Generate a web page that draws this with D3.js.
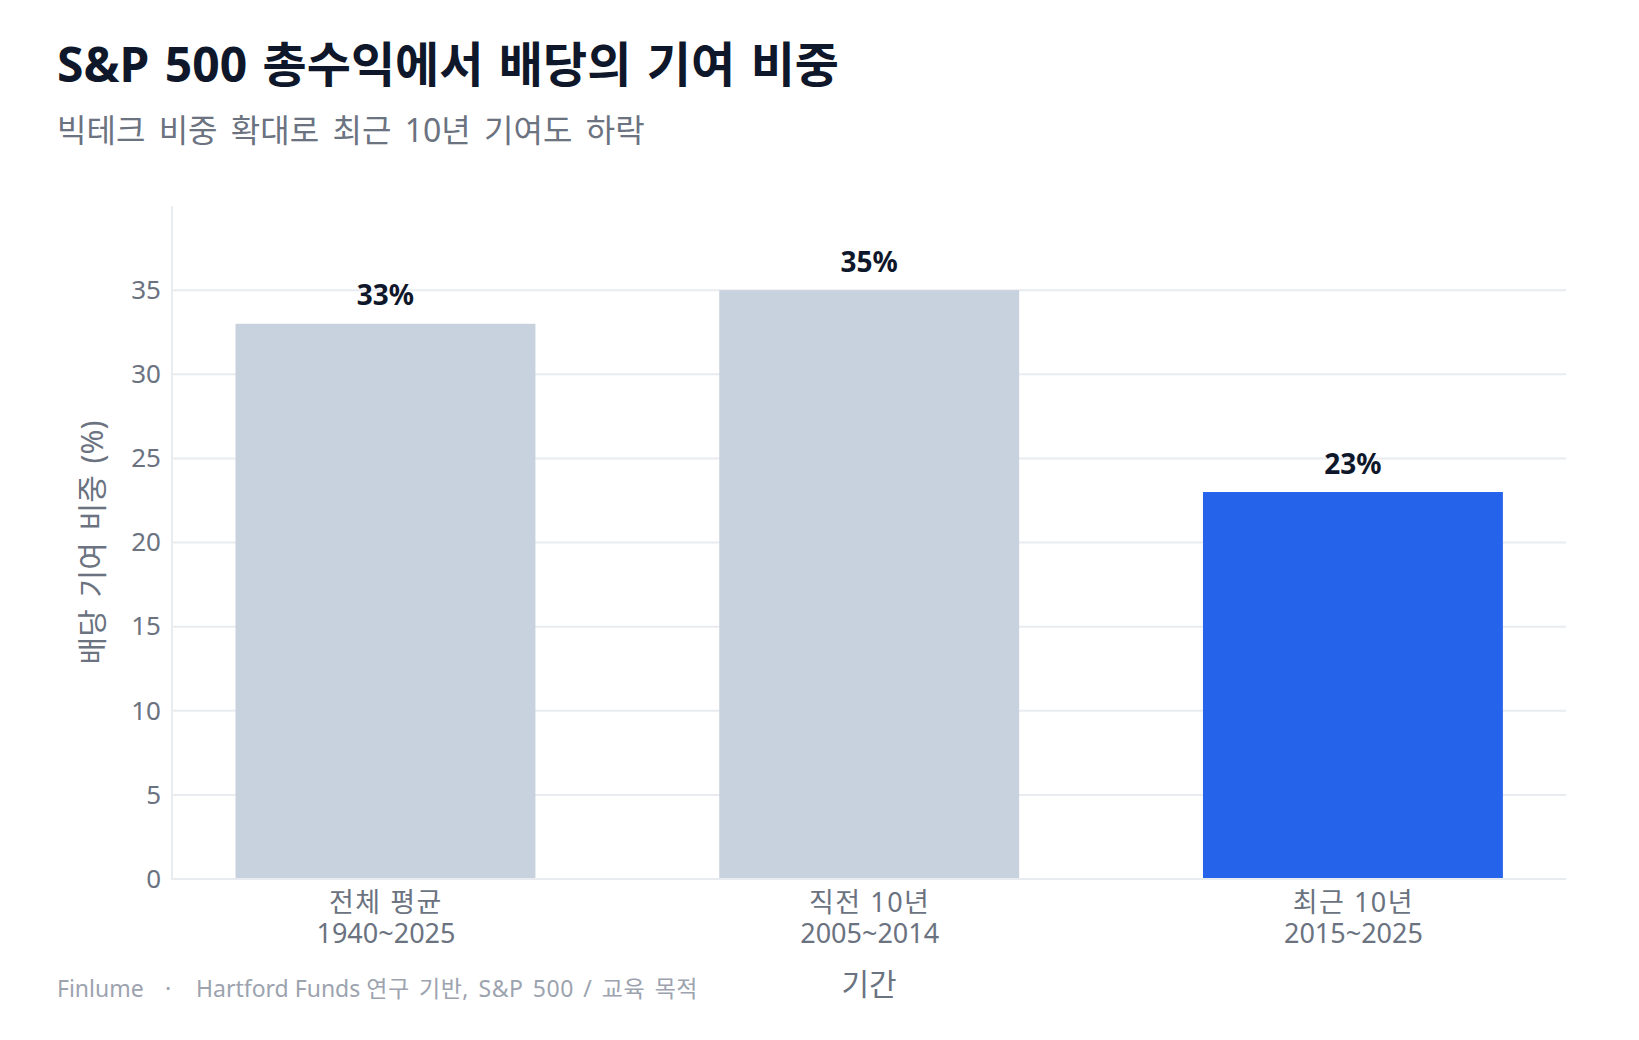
<!DOCTYPE html>
<html>
<head>
<meta charset="utf-8">
<script src="https://cdn.jsdelivr.net/npm/d3@7"></script>
<style>
  body { margin: 0; background: #ffffff; }
  svg { display: block; font-family: "Noto Sans", "Noto Sans CJK KR", sans-serif; }
</style>
</head>
<body>
<div id="chart"></div>
<script>
// 데이터
const categories = ['전체 평균', '직전 10년', '최근 10년'];
const periods = ['1940~2025', '2005~2014', '2015~2025'];
const values = [33, 35, 23];
const highlight = '최근 10년';
const yTicks = [0, 5, 10, 15, 20, 25, 30, 35];

const W = 1639, H = 1040;
const plot = { left: 172, right: 1566, top: 206, bottom: 879 };

const svg = d3.select('#chart').append('svg')
  .attr('width', W)
  .attr('height', H);

svg.append('rect').attr('width', W).attr('height', H).attr('fill', '#ffffff');

// 제목
svg.append('text')
  .attr('x', 57).attr('y', 82)
  .attr('font-size', 48).attr('font-weight', 700)
  .attr('word-spacing', 3)
  .attr('fill', '#0f172a')
  .text('S&P 500 총수익에서 배당의 기여 비중');

svg.append('text')
  .attr('x', 57).attr('y', 142)
  .attr('font-size', 32)
  .attr('word-spacing', 5)
  .attr('fill', '#6b7280')
  .text('빅테크 비중 확대로 최근 10년 기여도 하락');

// 스케일
const x = d3.scalePoint()
  .domain(categories)
  .range([143.6, 1594.8])
  .padding(0.5);
const barW = x.step() * 0.62;

const y = d3.scaleLinear()
  .domain([0, 40])
  .range([plot.bottom, plot.top]);

// 그리드
svg.append('g')
  .selectAll('line')
  .data(yTicks.filter(d => d > 0))
  .join('line')
    .attr('x1', plot.left).attr('x2', plot.right)
    .attr('y1', d => y(d)).attr('y2', d => y(d))
    .attr('stroke', '#e8ebf0')
    .attr('stroke-width', 2);

// 막대
svg.append('g')
  .selectAll('rect')
  .data(categories)
  .join('rect')
    .attr('x', d => x(d) - barW / 2)
    .attr('width', barW)
    .attr('y', (d, i) => y(values[i]))
    .attr('height', (d, i) => y(0) - y(values[i]))
    .attr('fill', d => d === highlight ? '#2563eb' : '#c8d2de');

// 값 라벨
svg.append('g')
  .selectAll('text')
  .data(categories)
  .join('text')
    .attr('x', d => x(d))
    .attr('y', (d, i) => y(values[i]) - 18.5)
    .attr('text-anchor', 'middle')
    .attr('font-size', 28).attr('font-weight', 700)
    .attr('fill', '#0f172a')
    .text((d, i) => values[i] + '%');

// 축 선
svg.append('line')
  .attr('x1', plot.left).attr('x2', plot.left)
  .attr('y1', plot.top).attr('y2', plot.bottom)
  .attr('stroke', '#e8ebf0').attr('stroke-width', 2);
svg.append('line')
  .attr('x1', plot.left - 1).attr('x2', plot.right)
  .attr('y1', plot.bottom).attr('y2', plot.bottom)
  .attr('stroke', '#e8ebf0').attr('stroke-width', 2);

// y 축
const yAxis = svg.append('g')
  .attr('transform', `translate(${plot.left},0)`)
  .call(d3.axisLeft(y).tickValues(yTicks).tickSize(0).tickPadding(11));
yAxis.select('.domain').remove();
yAxis.selectAll('text')
  .attr('font-size', 26)
  .attr('font-family', '"Noto Sans", "Noto Sans CJK KR", sans-serif')
  .attr('fill', '#6b7280');

// x 축 (두 줄 라벨)
const xAxis = svg.append('g')
  .attr('transform', `translate(0,${plot.bottom})`)
  .call(d3.axisBottom(x).tickSize(0));
xAxis.select('.domain').remove();
xAxis.selectAll('text').remove();
const xTick = xAxis.selectAll('.tick');
xTick.append('text')
  .attr('y', 33)
  .attr('text-anchor', 'middle')
  .attr('font-size', 27)
  .attr('letter-spacing', 1.5)
  .attr('font-family', '"Noto Sans", "Noto Sans CJK KR", sans-serif')
  .attr('fill', '#6b7280')
  .text(d => d);
xTick.append('text')
  .attr('y', 64)
  .attr('text-anchor', 'middle')
  .attr('font-size', 27)
  .attr('font-family', '"Noto Sans", "Noto Sans CJK KR", sans-serif')
  .attr('fill', '#6b7280')
  .text((d, i) => periods[i]);

// 축 제목
svg.append('text')
  .attr('x', (plot.left + plot.right) / 2)
  .attr('y', 995)
  .attr('text-anchor', 'middle')
  .attr('font-size', 30)
  .attr('fill', '#6b7280')
  .text('기간');

svg.append('text')
  .attr('transform', `translate(103,${(plot.top + plot.bottom) / 2}) rotate(-90)`)
  .attr('text-anchor', 'middle')
  .attr('font-size', 30)
  .attr('word-spacing', 4)
  .attr('fill', '#6b7280')
  .text('배당 기여 비중 (%)');

// 출처
const foot = svg.append('g').attr('font-size', 23).attr('fill', '#9ca3af');
foot.append('text').attr('x', 57).attr('y', 997).text('Finlume');
foot.append('text').attr('x', 168).attr('y', 997).attr('text-anchor', 'middle').text('·');
const src = foot.append('text').attr('x', 196).attr('y', 997);
src.append('tspan').text('Hartford Funds ');
src.append('tspan').attr('word-spacing', 3).attr('letter-spacing', 0.5).text('연구 기반, S&P 500 / 교육 목적');
</script>
</body>
</html>
